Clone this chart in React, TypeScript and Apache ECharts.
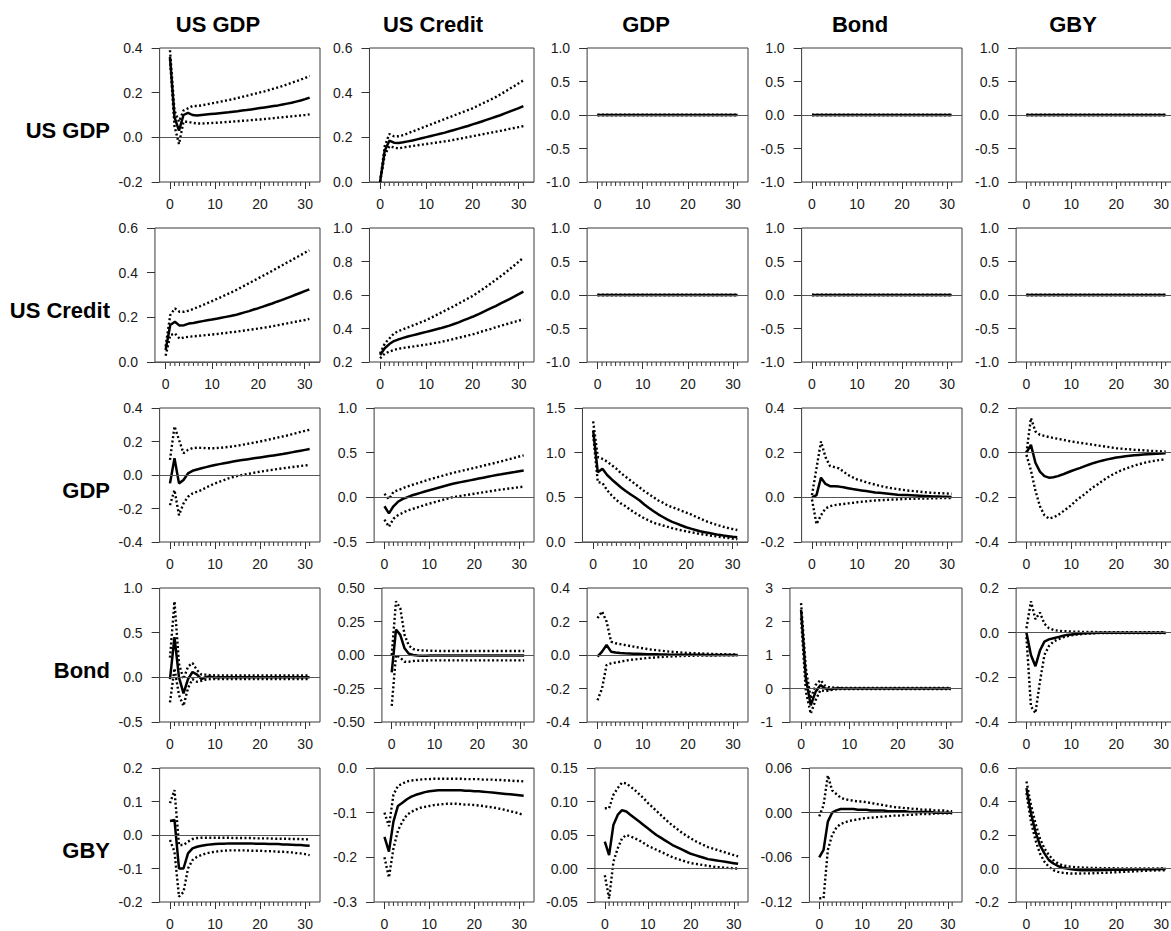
import React, { useEffect, useRef } from "react";
import * as echarts from "echarts";

// ---------- data ----------
const VARIABLES = ["US GDP", "US Credit", "GDP", "Bond", "GBY"];
const HORIZON = [0, 1, 2, 3, 4, 5, 6, 7, 8, 9, 10, 11, 12, 13, 14, 15, 16, 17, 18, 19, 20, 21, 22, 23, 24, 25, 26, 27, 28, 29, 30, 31];
const X_MAJOR_TICKS = [0, 10, 20, 30];
const X_MINOR_TICKS = [1, 2, 3, 4, 5, 6, 7, 8, 9, 11, 12, 13, 14, 15, 16, 17, 18, 19, 21, 22, 23, 24, 25, 26, 27, 28, 29, 31];

// y-axis ranges (row = shock, column = response)
const Y_MIN = [
  [-0.2, 0.0, -1.0, -1.0, -1.0],
  [0.0, 0.2, -1.0, -1.0, -1.0],
  [-0.4, -0.5, 0.0, -0.2, -0.4],
  [-0.5, -0.5, -0.4, -1, -0.4],
  [-0.2, -0.3, -0.05, -0.12, -0.2],
];
const Y_MAX = [
  [0.4, 0.6, 1.0, 1.0, 1.0],
  [0.6, 1.0, 1.0, 1.0, 1.0],
  [0.4, 1.0, 1.5, 0.4, 0.2],
  [1.0, 0.5, 0.4, 3, 0.2],
  [0.2, 0.0, 0.15, 0.06, 0.6],
];
const Y_STEP = [
  [0.2, 0.2, 0.5, 0.5, 0.5],
  [0.2, 0.2, 0.5, 0.5, 0.5],
  [0.2, 0.5, 0.5, 0.2, 0.2],
  [0.5, 0.25, 0.2, 1, 0.2],
  [0.1, 0.1, 0.05, 0.06, 0.2],
];
const Y_DEC = [
  [1, 1, 1, 1, 1],
  [1, 1, 1, 1, 1],
  [1, 1, 1, 1, 1],
  [1, 2, 1, 0, 1],
  [1, 1, 2, 2, 1],
];

const ZERO = [0, 0, 0, 0, 0, 0, 0, 0, 0, 0, 0, 0, 0, 0, 0, 0, 0, 0, 0, 0, 0, 0, 0, 0, 0, 0, 0, 0, 0, 0, 0, 0];

// shock US GDP
const MID_11 = [0.36, 0.09, 0.03, 0.10, 0.11, 0.10, 0.098, 0.100, 0.102, 0.104, 0.106, 0.108, 0.110, 0.112, 0.115, 0.117, 0.120, 0.122, 0.125, 0.128, 0.131, 0.134, 0.137, 0.140, 0.143, 0.147, 0.151, 0.155, 0.160, 0.165, 0.171, 0.178];
const HI_11 = [0.39, 0.12, 0.07, 0.12, 0.13, 0.14, 0.140, 0.143, 0.147, 0.151, 0.155, 0.159, 0.163, 0.167, 0.171, 0.176, 0.181, 0.186, 0.191, 0.196, 0.201, 0.206, 0.212, 0.218, 0.224, 0.230, 0.237, 0.244, 0.251, 0.258, 0.266, 0.275];
const LO_11 = [0.35, 0.05, -0.03, 0.07, 0.07, 0.065, 0.062, 0.062, 0.063, 0.064, 0.065, 0.066, 0.068, 0.069, 0.071, 0.072, 0.074, 0.075, 0.077, 0.079, 0.080, 0.082, 0.084, 0.086, 0.088, 0.090, 0.092, 0.094, 0.096, 0.098, 0.100, 0.103];

const MID_12 = [0.0, 0.14, 0.185, 0.176, 0.175, 0.178, 0.182, 0.186, 0.191, 0.196, 0.201, 0.206, 0.211, 0.216, 0.221, 0.227, 0.233, 0.239, 0.245, 0.251, 0.258, 0.264, 0.271, 0.278, 0.285, 0.292, 0.299, 0.307, 0.315, 0.323, 0.331, 0.340];
const HI_12 = [0.0, 0.16, 0.215, 0.205, 0.205, 0.21, 0.218, 0.226, 0.234, 0.242, 0.25, 0.258, 0.266, 0.274, 0.282, 0.29, 0.298, 0.306, 0.314, 0.322, 0.33, 0.34, 0.35, 0.36, 0.37, 0.38, 0.392, 0.404, 0.417, 0.429, 0.442, 0.455];
const LO_12 = [0.0, 0.12, 0.16, 0.155, 0.15, 0.155, 0.158, 0.161, 0.164, 0.167, 0.17, 0.173, 0.176, 0.179, 0.182, 0.185, 0.189, 0.193, 0.197, 0.201, 0.205, 0.209, 0.213, 0.217, 0.221, 0.225, 0.229, 0.233, 0.238, 0.242, 0.246, 0.25];

// shock US Credit
const MID_21 = [0.054, 0.166, 0.18, 0.163, 0.165, 0.172, 0.175, 0.179, 0.183, 0.187, 0.19, 0.194, 0.198, 0.202, 0.206, 0.21, 0.216, 0.222, 0.228, 0.235, 0.241, 0.248, 0.255, 0.262, 0.27, 0.277, 0.285, 0.293, 0.301, 0.309, 0.317, 0.325];
const HI_21 = [0.07, 0.21, 0.24, 0.225, 0.225, 0.23, 0.238, 0.246, 0.255, 0.264, 0.273, 0.282, 0.291, 0.301, 0.31, 0.32, 0.331, 0.342, 0.353, 0.364, 0.375, 0.386, 0.397, 0.408, 0.42, 0.431, 0.443, 0.454, 0.466, 0.477, 0.489, 0.5];
const LO_21 = [0.028, 0.12, 0.128, 0.105, 0.11, 0.113, 0.115, 0.117, 0.119, 0.121, 0.123, 0.125, 0.128, 0.13, 0.133, 0.135, 0.138, 0.141, 0.144, 0.147, 0.15, 0.153, 0.156, 0.16, 0.164, 0.168, 0.172, 0.176, 0.18, 0.184, 0.188, 0.193];

const MID_22 = [0.242, 0.282, 0.307, 0.325, 0.335, 0.344, 0.352, 0.359, 0.366, 0.373, 0.38, 0.387, 0.394, 0.401, 0.409, 0.417, 0.427, 0.437, 0.448, 0.459, 0.47, 0.482, 0.495, 0.508, 0.521, 0.534, 0.548, 0.562, 0.576, 0.59, 0.605, 0.62];
const HI_22 = [0.25, 0.31, 0.34, 0.37, 0.385, 0.395, 0.406, 0.417, 0.428, 0.439, 0.45, 0.464, 0.478, 0.492, 0.506, 0.52, 0.534, 0.549, 0.564, 0.579, 0.594, 0.612, 0.631, 0.65, 0.67, 0.69, 0.71, 0.731, 0.753, 0.776, 0.799, 0.823];
const LO_22 = [0.222, 0.25, 0.262, 0.272, 0.279, 0.284, 0.288, 0.292, 0.296, 0.3, 0.304, 0.309, 0.314, 0.319, 0.325, 0.331, 0.338, 0.345, 0.351, 0.358, 0.365, 0.373, 0.382, 0.39, 0.398, 0.407, 0.415, 0.423, 0.431, 0.439, 0.447, 0.455];

// shock GDP
const MID_31 = [-0.05, 0.10, -0.05, -0.03, 0.01, 0.025, 0.033, 0.04, 0.047, 0.054, 0.06, 0.065, 0.07, 0.075, 0.08, 0.085, 0.089, 0.093, 0.097, 0.101, 0.105, 0.109, 0.113, 0.117, 0.121, 0.125, 0.13, 0.135, 0.14, 0.145, 0.15, 0.155];
const HI_31 = [0.09, 0.29, 0.21, 0.13, 0.15, 0.16, 0.163, 0.162, 0.16, 0.16, 0.16, 0.162, 0.165, 0.168, 0.171, 0.175, 0.18, 0.185, 0.19, 0.195, 0.2, 0.206, 0.212, 0.218, 0.224, 0.23, 0.236, 0.243, 0.25, 0.257, 0.264, 0.27];
const LO_31 = [-0.18, -0.09, -0.24, -0.17, -0.13, -0.11, -0.1, -0.09, -0.075, -0.062, -0.05, -0.04, -0.03, -0.02, -0.012, -0.005, 0.0, 0.005, 0.01, 0.015, 0.02, 0.024, 0.028, 0.032, 0.036, 0.04, 0.043, 0.047, 0.05, 0.054, 0.057, 0.06];

const MID_32 = [-0.1, -0.18, -0.1, -0.05, -0.02, 0.0, 0.02, 0.035, 0.05, 0.065, 0.08, 0.094, 0.108, 0.122, 0.136, 0.15, 0.16, 0.17, 0.18, 0.19, 0.2, 0.21, 0.22, 0.23, 0.24, 0.25, 0.258, 0.267, 0.275, 0.283, 0.292, 0.3];
const HI_32 = [0.04, -0.02, 0.06, 0.08, 0.1, 0.12, 0.136, 0.152, 0.168, 0.184, 0.2, 0.214, 0.228, 0.242, 0.256, 0.27, 0.282, 0.294, 0.306, 0.318, 0.33, 0.342, 0.354, 0.366, 0.378, 0.39, 0.403, 0.417, 0.43, 0.443, 0.457, 0.47];
const LO_32 = [-0.25, -0.33, -0.24, -0.2, -0.175, -0.15, -0.134, -0.118, -0.102, -0.086, -0.07, -0.056, -0.042, -0.028, -0.014, 0.0, 0.008, 0.016, 0.024, 0.032, 0.04, 0.048, 0.056, 0.064, 0.072, 0.08, 0.087, 0.093, 0.1, 0.107, 0.113, 0.12];

const MID_33 = [1.25, 0.78, 0.82, 0.75, 0.70, 0.655, 0.61, 0.57, 0.535, 0.50, 0.465, 0.42, 0.38, 0.345, 0.31, 0.28, 0.25, 0.225, 0.205, 0.185, 0.165, 0.15, 0.135, 0.12, 0.11, 0.10, 0.09, 0.08, 0.072, 0.065, 0.058, 0.052];
const HI_33 = [1.35, 0.95, 0.93, 0.90, 0.86, 0.82, 0.77, 0.73, 0.69, 0.65, 0.61, 0.57, 0.535, 0.50, 0.465, 0.44, 0.41, 0.39, 0.37, 0.35, 0.33, 0.31, 0.285, 0.262, 0.24, 0.22, 0.202, 0.186, 0.171, 0.157, 0.145, 0.134];
const LO_33 = [1.2, 0.67, 0.66, 0.58, 0.52, 0.47, 0.43, 0.40, 0.36, 0.325, 0.295, 0.265, 0.24, 0.215, 0.2, 0.185, 0.17, 0.155, 0.142, 0.13, 0.12, 0.11, 0.1, 0.09, 0.082, 0.074, 0.066, 0.059, 0.052, 0.045, 0.038, 0.032];

const MID_34 = [0.0, 0.01, 0.088, 0.06, 0.05, 0.05, 0.048, 0.045, 0.041, 0.037, 0.034, 0.031, 0.028, 0.025, 0.022, 0.02, 0.018, 0.016, 0.014, 0.012, 0.011, 0.01, 0.009, 0.008, 0.007, 0.006, 0.005, 0.004, 0.004, 0.003, 0.003, 0.002];
const HI_34 = [0.01, 0.13, 0.25, 0.18, 0.14, 0.135, 0.13, 0.115, 0.10, 0.09, 0.08, 0.075, 0.068, 0.062, 0.057, 0.052, 0.047, 0.043, 0.04, 0.037, 0.034, 0.031, 0.029, 0.027, 0.025, 0.023, 0.021, 0.02, 0.019, 0.018, 0.017, 0.016];
const LO_34 = [-0.01, -0.12, -0.08, -0.05, -0.04, -0.035, -0.032, -0.03, -0.027, -0.025, -0.022, -0.02, -0.018, -0.016, -0.014, -0.013, -0.012, -0.011, -0.01, -0.009, -0.008, -0.007, -0.007, -0.006, -0.006, -0.005, -0.005, -0.004, -0.004, -0.003, -0.003, -0.003];

const MID_35 = [0.0, 0.035, -0.045, -0.085, -0.105, -0.112, -0.11, -0.105, -0.098, -0.09, -0.082, -0.075, -0.068, -0.06, -0.053, -0.046, -0.04, -0.035, -0.03, -0.026, -0.022, -0.019, -0.016, -0.014, -0.012, -0.01, -0.008, -0.007, -0.006, -0.005, -0.004, -0.003];
const HI_35 = [0.0, 0.155, 0.095, 0.08, 0.075, 0.07, 0.066, 0.062, 0.058, 0.054, 0.05, 0.047, 0.044, 0.041, 0.038, 0.035, 0.032, 0.029, 0.026, 0.023, 0.02, 0.018, 0.016, 0.015, 0.013, 0.012, 0.011, 0.009, 0.008, 0.007, 0.006, 0.005];
const LO_35 = [-0.01, -0.08, -0.17, -0.24, -0.28, -0.295, -0.29, -0.28, -0.265, -0.25, -0.235, -0.215, -0.2, -0.185, -0.168, -0.153, -0.14, -0.125, -0.112, -0.1, -0.09, -0.08, -0.072, -0.065, -0.058, -0.052, -0.047, -0.042, -0.038, -0.035, -0.032, -0.03];

// shock Bond
const MID_41 = [-0.02, 0.45, 0.0, -0.18, -0.02, 0.06, 0.03, -0.02, 0.005, 0.008, -0.003, 0.002, 0, 0, 0, 0, 0, 0, 0, 0, 0, 0, 0, 0, 0, 0, 0, 0, 0, 0, 0, 0];
const HI_41 = [0.22, 0.85, 0.15, -0.02, 0.12, 0.16, 0.08, 0.03, 0.03, 0.025, 0.022, 0.02, 0.02, 0.02, 0.02, 0.02, 0.02, 0.02, 0.02, 0.02, 0.02, 0.02, 0.02, 0.02, 0.02, 0.02, 0.02, 0.02, 0.02, 0.02, 0.02, 0.02];
const LO_41 = [-0.28, 0.1, -0.2, -0.32, -0.12, -0.02, -0.05, -0.04, -0.025, -0.02, -0.02, -0.02, -0.02, -0.02, -0.02, -0.02, -0.02, -0.02, -0.02, -0.02, -0.02, -0.02, -0.02, -0.02, -0.02, -0.02, -0.02, -0.02, -0.02, -0.02, -0.02, -0.02];

const MID_42 = [-0.13, 0.19, 0.15, 0.05, 0.01, 0.0, -0.004, -0.005, -0.005, -0.004, -0.004, -0.003, -0.003, -0.003, -0.003, -0.003, -0.003, -0.003, -0.003, -0.003, -0.003, -0.003, -0.003, -0.003, -0.003, -0.003, -0.003, -0.003, -0.003, -0.003, -0.003, -0.003];
const HI_42 = [0.0, 0.4, 0.35, 0.15, 0.07, 0.045, 0.038, 0.035, 0.033, 0.032, 0.031, 0.03, 0.03, 0.03, 0.03, 0.03, 0.03, 0.03, 0.03, 0.03, 0.03, 0.03, 0.03, 0.03, 0.03, 0.03, 0.03, 0.03, 0.03, 0.03, 0.03, 0.03];
const LO_42 = [-0.38, 0.0, -0.02, -0.05, -0.05, -0.045, -0.043, -0.042, -0.041, -0.04, -0.04, -0.04, -0.04, -0.04, -0.04, -0.04, -0.04, -0.04, -0.04, -0.04, -0.04, -0.04, -0.04, -0.04, -0.04, -0.04, -0.04, -0.04, -0.04, -0.04, -0.04, -0.04];

const MID_43 = [-0.01, 0.02, 0.06, 0.02, 0.015, 0.012, 0.01, 0.009, 0.008, 0.007, 0.006, 0.005, 0.004, 0.004, 0.003, 0.003, 0.002, 0.002, 0.002, 0.001, 0.001, 0.001, 0.001, 0.001, 0, 0, 0, 0, 0, 0, 0, 0];
const HI_43 = [0.22, 0.26, 0.2, 0.08, 0.07, 0.065, 0.06, 0.055, 0.05, 0.045, 0.04, 0.036, 0.032, 0.029, 0.026, 0.023, 0.02, 0.018, 0.016, 0.014, 0.012, 0.011, 0.01, 0.009, 0.008, 0.007, 0.006, 0.005, 0.005, 0.004, 0.004, 0.003];
const LO_43 = [-0.27, -0.2, -0.06, -0.05, -0.045, -0.04, -0.035, -0.03, -0.027, -0.024, -0.021, -0.018, -0.016, -0.014, -0.012, -0.01, -0.009, -0.008, -0.007, -0.006, -0.005, -0.005, -0.004, -0.004, -0.003, -0.003, -0.003, -0.002, -0.002, -0.002, -0.002, -0.002];

const MID_44 = [2.35, 0.3, -0.5, -0.1, 0.1, 0.0, -0.02, 0.0, 0.01, 0.0, 0, 0, 0, 0, 0, 0, 0, 0, 0, 0, 0, 0, 0, 0, 0, 0, 0, 0, 0, 0, 0, 0];
const HI_44 = [2.55, 0.6, -0.3, 0.1, 0.25, 0.08, 0.03, 0.025, 0.02, 0.02, 0.02, 0.02, 0.02, 0.02, 0.02, 0.02, 0.02, 0.02, 0.02, 0.02, 0.02, 0.02, 0.02, 0.02, 0.02, 0.02, 0.02, 0.02, 0.02, 0.02, 0.02, 0.02];
const LO_44 = [2.1, -0.1, -0.75, -0.35, -0.05, -0.08, -0.05, -0.025, -0.02, -0.02, -0.02, -0.02, -0.02, -0.02, -0.02, -0.02, -0.02, -0.02, -0.02, -0.02, -0.02, -0.02, -0.02, -0.02, -0.02, -0.02, -0.02, -0.02, -0.02, -0.02, -0.02, -0.02];

const MID_45 = [0.0, -0.1, -0.15, -0.08, -0.04, -0.03, -0.025, -0.02, -0.015, -0.01, -0.008, -0.006, -0.004, -0.003, -0.002, -0.001, 0, 0, 0, 0, 0, 0, 0, 0, 0, 0, 0, 0, 0, 0, 0, 0];
const HI_45 = [0.02, 0.14, 0.06, 0.09, 0.04, 0.02, 0.012, 0.009, 0.007, 0.006, 0.005, 0.004, 0.004, 0.003, 0.003, 0.003, 0.002, 0.002, 0.002, 0.002, 0.002, 0.002, 0.002, 0.002, 0.002, 0.002, 0.002, 0.002, 0.002, 0.002, 0.002, 0.002];
const LO_45 = [-0.02, -0.33, -0.36, -0.22, -0.1, -0.06, -0.04, -0.03, -0.022, -0.016, -0.012, -0.009, -0.007, -0.005, -0.004, -0.003, -0.002, -0.002, -0.002, -0.002, -0.002, -0.002, -0.002, -0.002, -0.002, -0.002, -0.002, -0.002, -0.002, -0.002, -0.002, -0.002];

// shock GBY
const MID_51 = [0.042, 0.045, -0.1, -0.1, -0.055, -0.04, -0.035, -0.032, -0.03, -0.028, -0.027, -0.026, -0.026, -0.025, -0.025, -0.025, -0.025, -0.025, -0.025, -0.026, -0.026, -0.026, -0.027, -0.027, -0.027, -0.028, -0.028, -0.029, -0.03, -0.03, -0.031, -0.032];
const HI_51 = [0.095, 0.134, -0.03, -0.03, -0.02, -0.012, -0.009, -0.008, -0.008, -0.008, -0.008, -0.008, -0.008, -0.008, -0.009, -0.009, -0.009, -0.009, -0.009, -0.01, -0.01, -0.01, -0.01, -0.011, -0.011, -0.011, -0.011, -0.012, -0.012, -0.012, -0.013, -0.013];
const LO_51 = [-0.015, -0.05, -0.184, -0.17, -0.1, -0.075, -0.065, -0.06, -0.055, -0.052, -0.05, -0.048, -0.047, -0.046, -0.046, -0.046, -0.046, -0.046, -0.047, -0.047, -0.047, -0.048, -0.048, -0.049, -0.05, -0.05, -0.051, -0.052, -0.054, -0.055, -0.057, -0.06];

const MID_52 = [-0.154, -0.187, -0.12, -0.085, -0.078, -0.07, -0.064, -0.06, -0.057, -0.054, -0.052, -0.051, -0.05, -0.05, -0.05, -0.05, -0.05, -0.05, -0.051, -0.051, -0.052, -0.052, -0.053, -0.054, -0.055, -0.056, -0.057, -0.058, -0.059, -0.06, -0.061, -0.062];
const HI_52 = [-0.1, -0.13, -0.06, -0.04, -0.035, -0.03, -0.028, -0.027, -0.026, -0.025, -0.025, -0.024, -0.024, -0.024, -0.024, -0.024, -0.024, -0.024, -0.025, -0.025, -0.025, -0.025, -0.026, -0.026, -0.026, -0.027, -0.027, -0.028, -0.028, -0.029, -0.029, -0.03];
const LO_52 = [-0.2, -0.245, -0.18, -0.14, -0.12, -0.105, -0.098, -0.093, -0.089, -0.087, -0.085, -0.083, -0.082, -0.081, -0.08, -0.08, -0.08, -0.081, -0.082, -0.082, -0.083, -0.084, -0.085, -0.087, -0.088, -0.09, -0.092, -0.094, -0.097, -0.099, -0.102, -0.105];

const MID_53 = [0.04, 0.02, 0.065, 0.08, 0.087, 0.085, 0.08, 0.075, 0.07, 0.065, 0.06, 0.055, 0.05, 0.046, 0.042, 0.038, 0.034, 0.031, 0.028, 0.025, 0.022, 0.02, 0.018, 0.016, 0.014, 0.013, 0.012, 0.011, 0.01, 0.009, 0.008, 0.007];
const HI_53 = [0.09, 0.09, 0.11, 0.12, 0.128, 0.127, 0.122, 0.117, 0.111, 0.105, 0.098, 0.092, 0.086, 0.08, 0.074, 0.068, 0.063, 0.058, 0.053, 0.049, 0.045, 0.041, 0.038, 0.035, 0.032, 0.03, 0.028, 0.026, 0.024, 0.022, 0.02, 0.018];
const LO_53 = [-0.01, -0.045, 0.01, 0.03, 0.045, 0.05, 0.048, 0.045, 0.042, 0.038, 0.034, 0.031, 0.028, 0.025, 0.022, 0.019, 0.016, 0.014, 0.012, 0.01, 0.008, 0.007, 0.006, 0.005, 0.004, 0.003, 0.002, 0.002, 0.001, 0.001, 0.0, 0.0];

const MID_54 = [-0.06, -0.05, -0.012, 0.0, 0.003, 0.005, 0.005, 0.005, 0.005, 0.004, 0.004, 0.004, 0.003, 0.003, 0.003, 0.003, 0.002, 0.002, 0.002, 0.002, 0.002, 0.001, 0.001, 0.001, 0.001, 0.001, 0.001, 0.0, 0.0, 0.0, 0.0, 0.0];
const HI_54 = [-0.005, 0.01, 0.05, 0.03, 0.025, 0.02, 0.018, 0.017, 0.016, 0.015, 0.015, 0.014, 0.013, 0.012, 0.011, 0.01, 0.009, 0.008, 0.007, 0.007, 0.006, 0.006, 0.005, 0.005, 0.004, 0.004, 0.004, 0.003, 0.003, 0.003, 0.002, 0.002];
const LO_54 = [-0.115, -0.115, -0.05, -0.03, -0.02, -0.015, -0.013, -0.011, -0.01, -0.009, -0.008, -0.007, -0.007, -0.006, -0.006, -0.005, -0.005, -0.004, -0.004, -0.004, -0.003, -0.003, -0.003, -0.002, -0.002, -0.002, -0.002, -0.001, -0.001, -0.001, -0.001, -0.001];

const MID_55 = [0.48, 0.33, 0.22, 0.14, 0.09, 0.05, 0.03, 0.015, 0.005, 0.0, -0.005, -0.008, -0.01, -0.01, -0.01, -0.01, -0.01, -0.009, -0.009, -0.008, -0.008, -0.007, -0.007, -0.006, -0.006, -0.005, -0.005, -0.004, -0.004, -0.004, -0.003, -0.003];
const HI_55 = [0.52, 0.38, 0.27, 0.18, 0.12, 0.08, 0.05, 0.03, 0.02, 0.014, 0.01, 0.008, 0.006, 0.005, 0.004, 0.003, 0.003, 0.002, 0.002, 0.002, 0.001, 0.001, 0.001, 0.001, 0.001, 0, 0, 0, 0, 0, 0, 0];
const LO_55 = [0.45, 0.28, 0.17, 0.09, 0.04, 0.01, -0.01, -0.02, -0.025, -0.028, -0.03, -0.03, -0.03, -0.029, -0.029, -0.028, -0.027, -0.026, -0.025, -0.023, -0.022, -0.021, -0.019, -0.018, -0.017, -0.015, -0.014, -0.013, -0.012, -0.011, -0.011, -0.01];

const PANEL_MID = [
  [MID_11, MID_12, ZERO, ZERO, ZERO],
  [MID_21, MID_22, ZERO, ZERO, ZERO],
  [MID_31, MID_32, MID_33, MID_34, MID_35],
  [MID_41, MID_42, MID_43, MID_44, MID_45],
  [MID_51, MID_52, MID_53, MID_54, MID_55],
];
const PANEL_HI = [
  [HI_11, HI_12, ZERO, ZERO, ZERO],
  [HI_21, HI_22, ZERO, ZERO, ZERO],
  [HI_31, HI_32, HI_33, HI_34, HI_35],
  [HI_41, HI_42, HI_43, HI_44, HI_45],
  [HI_51, HI_52, HI_53, HI_54, HI_55],
];
const PANEL_LO = [
  [LO_11, LO_12, ZERO, ZERO, ZERO],
  [LO_21, LO_22, ZERO, ZERO, ZERO],
  [LO_31, LO_32, LO_33, LO_34, LO_35],
  [LO_41, LO_42, LO_43, LO_44, LO_45],
  [LO_51, LO_52, LO_53, LO_54, LO_55],
];

// ---------- layout ----------
const FONT = '"Liberation Sans", Arial, Helvetica, sans-serif';
const COL_LABEL_START = [118.5, 333, 546, 760.5, 975];
const COL_RIGHT = [320, 534, 748, 962, 1176];
const ROW_TOP0 = 48;
const ROW_GAP = 180;
const PLOT_H = 134;
const LABEL_GAP = 17;
const X_MIN = -2.3;
const X_MAX = 33.3;
const MINOR_TICK_LEN = 4;
const HEADER_X = [218, 433, 646, 860, 1073];
const HEADER_Y = 24;
const ROWLAB_RIGHT = 110;
const ROWLAB_Y0 = 130;

function yTicks(r: number, c: number): number[] {
  const out: number[] = [];
  const n = Math.round((Y_MAX[r][c] - Y_MIN[r][c]) / Y_STEP[r][c]);
  for (let i = 0; i <= n; i++) out.push(+(Y_MIN[r][c] + i * Y_STEP[r][c]).toFixed(6));
  return out;
}

function buildOption() {
  const canvas = document.createElement("canvas");
  const ctx = canvas.getContext("2d")!;
  ctx.font = `14px ${FONT}`;

  const grids: any[] = [];
  const xAxes: any[] = [];
  const yAxes: any[] = [];
  const series: any[] = [];
  const graphics: any[] = [];

  for (let r = 0; r < 5; r++) {
    for (let c = 0; c < 5; c++) {
      const k = r * 5 + c;
      const ticks = yTicks(r, c);
      const dec = Y_DEC[r][c];
      const yMin = Y_MIN[r][c];
      const labels = ticks.map((v) => v.toFixed(dec));
      const maxW = Math.max(...labels.map((s) => ctx.measureText(s).width));
      const left = COL_LABEL_START[c] + maxW + LABEL_GAP;
      const top = ROW_TOP0 + r * ROW_GAP;
      grids.push({
        left,
        top,
        width: COL_RIGHT[c] - left,
        height: PLOT_H,
        show: true,
        borderColor: "#3a3a3a",
        borderWidth: 1,
        backgroundColor: "transparent",
        containLabel: false,
        outerBoundsMode: "none",
      });
      xAxes.push({
        type: "value",
        gridIndex: k,
        position: "bottom",
        min: X_MIN,
        max: X_MAX,
        axisLine: { show: false, onZero: false },
        splitLine: { show: false },
        axisTick: { show: true, inside: false, customValues: X_MAJOR_TICKS, length: 7, lineStyle: { color: "#333", width: 1 } },
        axisLabel: { show: true, customValues: X_MAJOR_TICKS, fontSize: 14, fontFamily: FONT, color: "#1a1a1a", margin: 15 },
      });
      yAxes.push({
        type: "value",
        gridIndex: k,
        position: "left",
        min: yMin,
        max: Y_MAX[r][c],
        axisLine: { show: false, onZero: false },
        splitLine: { show: false },
        axisTick: { show: true, inside: false, customValues: ticks, length: 8, lineStyle: { color: "#333", width: 1 } },
        axisLabel: {
          show: true,
          customValues: ticks,
          formatter: (v: number) => Number(v).toFixed(dec),
          fontSize: 14,
          fontFamily: FONT,
          color: "#1a1a1a",
          margin: LABEL_GAP,
        },
      });
      const hasZero = yMin <= 0 && Y_MAX[r][c] >= 0;
      const mk = (arr: number[]) => HORIZON.map((t, i) => [t, arr[i]]);
      // minor x ticks (one per period) below the bottom edge
      series.push({
        type: "custom",
        xAxisIndex: k,
        yAxisIndex: k,
        silent: true,
        clip: false,
        data: X_MINOR_TICKS.map((t) => [t, yMin]),
        renderItem: (params: any, api: any) => {
          const p = api.coord([api.value(0), api.value(1)]);
          return {
            type: "line",
            shape: { x1: p[0], y1: p[1], x2: p[0], y2: p[1] + MINOR_TICK_LEN },
            style: { stroke: "#333", lineWidth: 1 },
          };
        },
      });
      series.push({
        type: "line",
        xAxisIndex: k,
        yAxisIndex: k,
        data: mk(PANEL_LO[r][c]),
        showSymbol: false,
        symbol: "none",
        lineStyle: { color: "#000", width: 2.4, type: [2, 2.4], cap: "butt" },
        markLine: hasZero
          ? {
              silent: true,
              symbol: ["none", "none"],
              label: { show: false },
              lineStyle: { color: "#555", width: 1, type: "solid" },
              data: [{ yAxis: 0 }],
            }
          : undefined,
      });
      series.push({
        type: "line",
        xAxisIndex: k,
        yAxisIndex: k,
        data: mk(PANEL_HI[r][c]),
        showSymbol: false,
        symbol: "none",
        lineStyle: { color: "#000", width: 2.4, type: [2, 2.4], cap: "butt" },
      });
      series.push({
        type: "line",
        xAxisIndex: k,
        yAxisIndex: k,
        data: mk(PANEL_MID[r][c]),
        showSymbol: false,
        symbol: "none",
        lineStyle: { color: "#000", width: 2.5, type: "solid" },
      });
    }
  }

  for (let c = 0; c < 5; c++) {
    graphics.push({
      type: "text",
      x: HEADER_X[c],
      y: HEADER_Y,
      style: {
        text: VARIABLES[c],
        font: `bold 22px ${FONT}`,
        fill: "#000",
        textAlign: "center",
        textVerticalAlign: "middle",
        align: "center",
        verticalAlign: "middle",
      },
    });
  }
  for (let r = 0; r < 5; r++) {
    graphics.push({
      type: "text",
      x: ROWLAB_RIGHT,
      y: ROWLAB_Y0 + r * ROW_GAP,
      style: {
        text: VARIABLES[r],
        font: `bold 22px ${FONT}`,
        fill: "#000",
        textAlign: "right",
        textVerticalAlign: "middle",
        align: "right",
        verticalAlign: "middle",
      },
    });
  }

  return {
    animation: false,
    backgroundColor: "#ffffff",
    grid: grids,
    xAxis: xAxes,
    yAxis: yAxes,
    series,
    graphic: graphics,
  };
}

export default function App() {
  const ref = useRef<HTMLDivElement>(null);
  useEffect(() => {
    if (!ref.current) return;
    const chart = echarts.init(ref.current, undefined, { renderer: "svg" });
    chart.setOption(buildOption() as any);
    return () => chart.dispose();
  }, []);
  return (
    <div style={{ position: "absolute", left: 0, top: 0, width: 1171, height: 931, overflow: "hidden", background: "#fff" }}>
      <div ref={ref} style={{ width: 1180, height: 940 }} />
    </div>
  );
}
